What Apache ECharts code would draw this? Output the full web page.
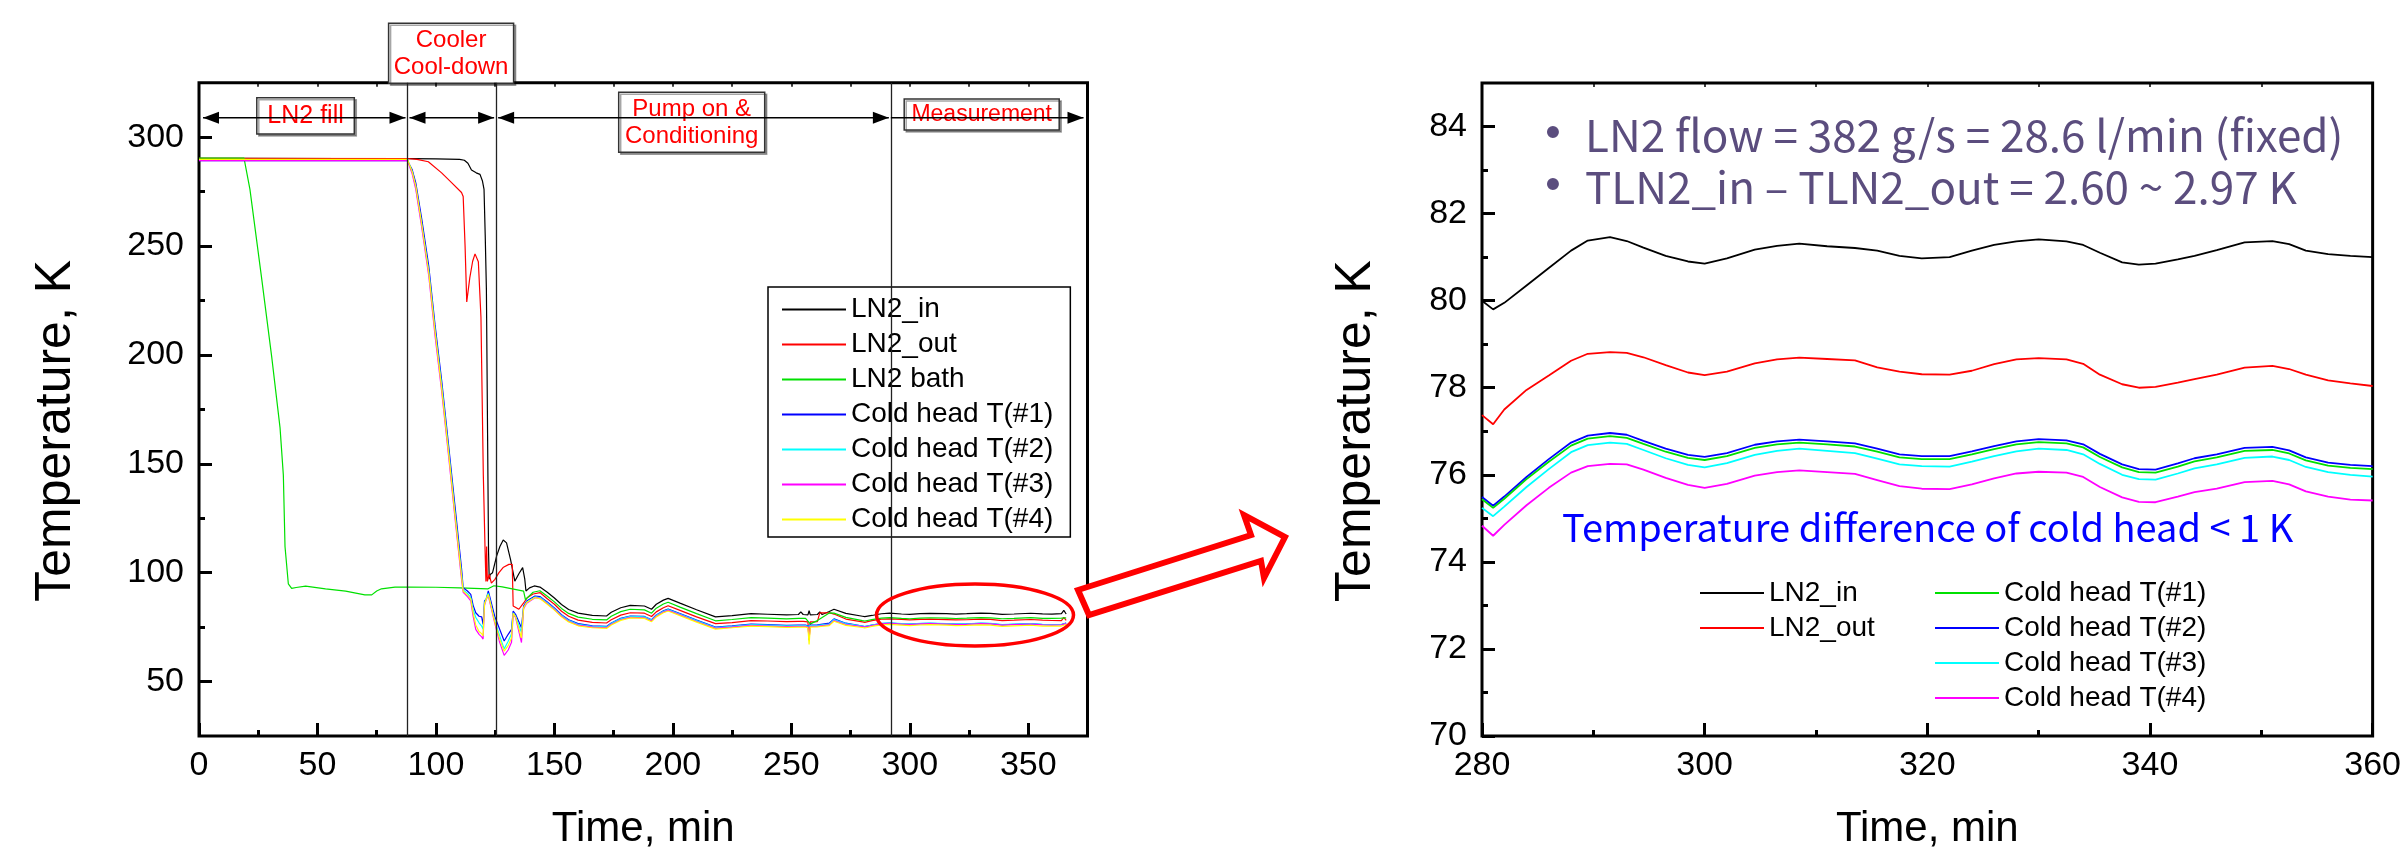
<!DOCTYPE html>
<html>
<head>
<meta charset="utf-8">
<script src="https://cdn.jsdelivr.net/npm/echarts@6/dist/echarts.min.js"></script>
<style>
  html, body { margin: 0; padding: 0; background: #fff; }
  #chart { width: 2404px; height: 855px; }
</style>
</head>
<body>
<div id="chart"></div>
<script>
// ---------- Full run: time [min], temperature [K] ----------
const runLN2in = [[0,290.3],[20,290.3],[60,290.2],[88,290.1],[100,290],[110,289.8],[112,289.4],[113.5,288],[115,284.9],[117,283.6],[118.6,282.9],[119.6,280],[120.3,276],[120.8,255],[121.3,230],[121.8,163],[122.2,110],[122.5,97],[122.9,99.2],[123.9,100],[125.6,107.6],[127,112],[128.4,115],[129.8,113.7],[131.5,106],[133.3,96.1],[135,99.5],[136.6,102.3],[137.5,97],[138,91.6],[139.5,93],[141.5,93.9],[143.9,93.4],[147,91],[150,88.4],[153,85.4],[156,83.1],[160,81.4],[166,80.4],[172,80.1],[174,81.8],[178,83.9],[182,85],[188,84.7],[191,83.2],[193,85.5],[196,87.4],[198,88.2],[203,86],[210,83],[218,79.7],[225,80.3],[233,81.2],[240,80.9],[248,80.6],[253,80.8],[254,82],[255,80.8],[257,80.6],[257.5,82.5],[258,80.6],[261,80.8],[262,82],[263,80.8],[266,82.2],[268,83.2],[273,81.3],[280,80],[281,79.8],[284,80.35],[288,81.15],[291.5,81.46],[296.5,81.03],[300,80.85],[304.5,81.17],[308.5,81.31],[315.5,81.15],[319.5,80.97],[324,81.15],[330,81.41],[334,81.28],[339,80.83],[344,81.03],[351,81.37],[356,81.07],[360,81],[364,81.2],[365,82.7],[366,81]];

const runLN2out = [[0,290.3],[88,290.2],[92,289.8],[96.8,288.7],[102.4,283.6],[106.6,279.1],[110.8,274.6],[111.5,272.7],[112.3,250],[113,224.3],[114.3,235.5],[115.5,243],[116.5,246.4],[117.9,242.8],[119,217.4],[120,144.8],[120.7,112.1],[121.1,96],[121.4,112],[121.7,96],[122.5,99.2],[123.4,95.2],[124.9,96.9],[126.6,100],[128.5,102.5],[130.8,103.8],[132.2,103.8],[132.6,84.7],[135,83.2],[137.1,86.2],[138.5,88.5],[141,90.2],[144,90.8],[147,88],[150,85.5],[153,82.3],[156,80],[160,78.2],[166,77.2],[172,76.9],[174,78.4],[178,80.5],[182,81.6],[188,81.4],[191,79.9],[193,82],[196,83.9],[198,84.8],[203,82.7],[210,79.7],[218,76.6],[225,77.1],[233,78],[240,77.8],[248,77.5],[253,77.6],[255,77.6],[257,77.4],[257.5,69],[258,77.4],[261,77.5],[262,81.5],[265,81.5],[266,81.6],[268,81],[273,78.7],[280,77.37],[281,77.16],[284,77.95],[288,78.62],[291.5,78.82],[296.5,78.52],[300,78.29],[304.5,78.56],[308.5,78.69],[315.5,78.47],[319.5,78.31],[324,78.39],[330,78.68],[334,78.55],[339,78],[344,78.2],[351,78.5],[356,78.17],[360,78.04],[364,78],[365,79.5],[366,78.1]];

const runBath = [[0,290.4],[19,290.4],[21.5,276],[26.4,235.5],[30.7,199],[34.2,166.6],[35.6,144.8],[36.3,112],[37.7,94.9],[39.1,92.8],[41,93.2],[45,93.8],[53.4,92.6],[61.9,91.5],[66.2,90.6],[70,89.8],[72.9,89.8],[75,91.6],[77,92.6],[82.7,93.4],[88.3,93.4],[100,93.3],[110,93],[122,92.6],[124.5,94],[128,93.5],[137,91.5],[137.8,87.5],[138.6,88.5],[141,91],[143.9,91.7],[147,89.2],[150,86.6],[153,83.6],[156,81.3],[160,79.6],[166,78.6],[172,78.3],[174,80],[178,82.1],[182,83.2],[188,82.9],[191,81.4],[193,83.7],[196,85.6],[198,86.4],[203,84.2],[210,81.2],[218,77.9],[225,78.5],[233,79.4],[240,79.1],[248,78.8],[253,79],[256,79],[258,76.5],[261,78],[266,81.5],[268,81.4],[273,79.5],[280,78],[281,77.8],[284,78.4],[288,79.1],[291.5,79.4],[296.5,79],[300,78.85],[304.5,79.15],[308.5,79.3],[315.5,79.1],[319.5,78.95],[324,79.1],[330,79.4],[334,79.25],[339,78.85],[344,79],[351,79.35],[356,79.05],[360,79],[364,79.1],[366,79.2]];

const runHead1 = [[0,289.2],[88,289.2],[90,285],[91.5,279],[94,262.5],[97,240.5],[99.6,214],[102.4,188.5],[105.2,160],[108,131],[110.8,102],[111.5,93.1],[113.3,91.6],[114.7,90],[115.7,85],[116.8,81.6],[118.2,80],[119.3,79.7],[119.9,76.3],[120.5,87],[121.3,88],[122.1,91.6],[124.8,80],[126.9,74],[128.8,68.6],[130.5,71.7],[131.9,74],[132.6,82.4],[133.6,80.9],[136.1,74.7],[137,84.7],[138.3,87],[141.8,89.3],[144,89],[147,86.5],[150,83.8],[153,80.7],[156,78.4],[160,76.6],[166,75.6],[172,75.3],[174,76.9],[178,79],[182,80.1],[188,79.9],[191,78.4],[193,80.6],[196,82.5],[198,83.3],[203,81.2],[210,78.2],[218,75],[225,75.6],[233,76.4],[240,76.1],[248,75.8],[253,75.9],[256,75.9],[257,75.6],[258,75.9],[261,76],[264,76.5],[266,76.8],[268,78.8],[273,76.8],[280,75.44],[281,75.24],[284,75.9],[288,76.67],[291.5,76.89],[296.5,76.53],[300,76.34],[304.5,76.62],[308.5,76.74],[315.5,76.53],[319.5,76.36],[324,76.47],[330,76.75],[334,76.63],[339,76.06],[344,76.31],[351,76.57],[356,76.21],[360,76.13],[364,76.2],[366,76.9]];

const runHead2 = [[0,289.6],[88,289.6],[90,284],[91.5,277],[94,260],[97,238],[99.6,211.5],[102.4,186],[105.2,157.5],[108,128],[110.8,99],[111.5,92],[113.3,90.5],[114.7,88.5],[115.7,83],[116.8,79.5],[118.2,77],[119.3,75.5],[119.9,74],[120.5,86],[121.3,88.5],[122.1,90.5],[124.8,78],[126.9,71],[128.8,65],[130.5,68.5],[131.9,72],[132.6,81.5],[133.6,80],[136.1,72.5],[137,84],[138.3,86.5],[141.8,88.8],[144,88.6],[147,86.2],[150,83.5],[153,80.4],[156,78.1],[160,76.3],[166,75.4],[172,75.1],[174,76.7],[178,78.8],[182,79.9],[188,79.7],[191,78.2],[193,80.4],[196,82.3],[198,83.1],[203,81],[210,78],[218,74.8],[225,75.4],[233,76.2],[240,75.9],[248,75.6],[253,75.7],[256,75.7],[257,75.4],[258,75.7],[261,75.8],[264,76.2],[266,76.4],[268,78.5],[273,76.6],[280,75.49],[281,75.29],[284,75.95],[288,76.74],[291.5,76.96],[296.5,76.6],[300,76.41],[304.5,76.69],[308.5,76.81],[315.5,76.6],[319.5,76.43],[324,76.54],[330,76.82],[334,76.7],[339,76.13],[344,76.38],[351,76.64],[356,76.28],[360,76.2],[364,76.2],[366,76.8]];

const runHead3 = [[0,289.2],[88,289.2],[90,283],[91.5,276],[94,258.5],[97,236],[99.6,209],[102.4,183.5],[105.2,155],[108,125.5],[110.8,97],[111.5,91],[113.3,89],[114.7,87],[115.7,80],[116.8,74],[118.2,71.7],[119.3,70.5],[119.9,69.5],[120.5,85],[121.3,88],[122.1,89.5],[124.8,77],[126.9,68],[128.8,62],[130.5,64.5],[131.9,68],[132.6,81],[133.6,79.5],[136.1,67.9],[137,83.5],[138.3,86],[141.8,88.5],[144,88.2],[147,85.8],[150,83.1],[153,80],[156,77.7],[160,75.9],[166,75],[172,74.7],[174,76.3],[178,78.4],[182,79.5],[188,79.3],[191,77.8],[193,80],[196,81.9],[198,82.7],[203,80.6],[210,77.6],[218,74.4],[225,75],[233,75.8],[240,75.5],[248,75.2],[253,75.3],[256,75.3],[257,75],[257.5,70],[258,75.3],[261,75.4],[264,75.8],[266,76],[268,78],[273,76.2],[280,75.24],[281,75.05],[284,75.72],[288,76.52],[291.5,76.74],[296.5,76.38],[300,76.17],[304.5,76.46],[308.5,76.6],[315.5,76.37],[319.5,76.2],[324,76.3],[330,76.6],[334,76.47],[339,75.9],[344,76.15],[351,76.42],[356,76.06],[360,75.96],[364,76],[366,76.6]];

const runHead4 = [[0,289.8],[88,289.8],[90,284],[91.5,277.5],[94,260],[97,237.5],[99.6,211],[102.4,185],[105.2,156.5],[108,127],[110.8,98.5],[111.5,91.5],[113.3,89.8],[114.7,88],[115.7,81.5],[116.8,76],[118.2,73],[119.3,72],[119.9,71],[120.5,85.5],[121.3,88],[122.1,90],[124.8,77.5],[126.9,69.5],[128.8,64],[130.5,66.5],[131.9,70],[132.6,81.3],[133.6,79.7],[136.1,70],[137,83.8],[138.3,86.3],[141.8,88.6],[144,88],[147,85.5],[150,82.8],[153,79.7],[156,77.4],[160,75.6],[166,74.7],[172,74.4],[174,76],[178,78.1],[182,79.2],[188,79],[191,77.5],[193,79.7],[196,81.6],[198,82.4],[203,80.3],[210,77.3],[218,74.1],[225,74.7],[233,75.5],[240,75.2],[248,74.9],[253,75],[256,75],[257,74.7],[257.5,67],[258,75],[261,75.1],[264,75.5],[266,75.7],[268,77.7],[273,75.8],[280,74.83],[281,74.6],[284,75.3],[288,76.05],[291.5,76.25],[296.5,75.93],[300,75.7],[304.5,75.98],[308.5,76.1],[315.5,75.88],[319.5,75.68],[324,75.78],[330,76.07],[334,75.95],[339,75.38],[344,75.6],[351,75.86],[356,75.5],[360,75.41],[364,75.5],[366,76.2]];

// Phase boundaries of the run [min]
const phaseBounds = [0, 88, 125.4, 292, 375];

// ---------- Measurement window 280-360 min ----------
const measTime = [280,281,282,284,286,288,289.5,291.5,293,294.5,296.5,298.5,300,302,304.5,306.5,308.5,311,313.5,315.5,317.5,319.5,322,324,326,328,330,332.5,334,335.5,337.5,339,340.5,342.5,344,346,348.5,351,352.5,354,356,358,360];
const measLN2in  = [80.0,79.8,79.95,80.35,80.75,81.15,81.38,81.46,81.37,81.22,81.03,80.9,80.85,80.97,81.17,81.26,81.31,81.25,81.21,81.15,81.03,80.97,81.0,81.15,81.28,81.36,81.41,81.36,81.28,81.1,80.88,80.83,80.85,80.95,81.03,81.16,81.34,81.37,81.3,81.15,81.07,81.03,81.0];
const measLN2out = [77.37,77.16,77.5,77.95,78.28,78.62,78.78,78.82,78.8,78.7,78.52,78.35,78.29,78.37,78.56,78.65,78.69,78.66,78.63,78.47,78.37,78.31,78.3,78.39,78.54,78.65,78.68,78.65,78.55,78.3,78.08,78.0,78.02,78.12,78.2,78.3,78.46,78.5,78.43,78.3,78.17,78.1,78.04];
const measHead1  = [75.44,75.24,75.45,75.9,76.3,76.67,76.83,76.89,76.85,76.71,76.53,76.39,76.34,76.43,76.62,76.7,76.74,76.7,76.65,76.53,76.4,76.36,76.36,76.47,76.59,76.7,76.75,76.72,76.63,76.41,76.17,76.06,76.05,76.19,76.31,76.4,76.55,76.57,76.49,76.33,76.21,76.16,76.13];
const measHead2  = [75.49,75.29,75.5,75.95,76.36,76.74,76.9,76.96,76.92,76.78,76.6,76.46,76.41,76.5,76.69,76.77,76.81,76.77,76.72,76.6,76.47,76.43,76.43,76.54,76.66,76.77,76.82,76.79,76.7,76.48,76.24,76.13,76.12,76.26,76.38,76.47,76.62,76.64,76.56,76.4,76.28,76.23,76.2];
const measHead3  = [75.24,75.05,75.27,75.72,76.13,76.52,76.68,76.74,76.71,76.57,76.38,76.23,76.17,76.27,76.46,76.55,76.6,76.55,76.5,76.37,76.24,76.2,76.19,76.3,76.43,76.54,76.6,76.57,76.47,76.25,76.0,75.9,75.89,76.03,76.15,76.24,76.39,76.42,76.34,76.18,76.06,76.0,75.96];
const measHead4  = [74.83,74.6,74.85,75.3,75.7,76.05,76.2,76.25,76.24,76.12,75.93,75.77,75.7,75.79,75.98,76.06,76.1,76.06,76.02,75.88,75.74,75.68,75.67,75.78,75.92,76.03,76.07,76.05,75.95,75.72,75.48,75.38,75.37,75.5,75.6,75.68,75.83,75.86,75.78,75.62,75.5,75.43,75.41];

// ---------- Tick positions ----------
const runXMajor = [0,50,100,150,200,250,300,350];
const runXMinor = [25,75,125,175,225,275,325];
const runXTop   = [25,50,75,100,125,150,175,200,225,250,275,300,325,350];
const runYMajor = [50,100,150,200,250,300];
const runYMinor = [75,125,175,225,275];
const measXMajor = [280,300,320,340,360];
const measXMinor = [290,310,330,350];
const measXTop   = [290,300,310,320,330,340,350];
const measYMajor = [70,72,74,76,78,80,82,84];
const measYMinor = [71,73,75,77,79,81,83];

const FONT = '"Liberation Sans", Arial, sans-serif';
const NOTE_FONT = '"Noto Sans CJK KR", "Noto Sans", sans-serif';
const C = { black:'#000000', red:'#ff0000', green:'#00e000', blue:'#0000ff', cyan:'#00ffff', magenta:'#ff00ff', yellow:'#ffff00' };

const zip = (ts, vs) => ts.map((t, i) => [t, vs[i]]);

function line(name, data, color, xi, yi, width, extra) {
  return Object.assign({
    type: 'line', name, data, xAxisIndex: xi, yAxisIndex: yi,
    symbol: 'none', showSymbol: false, silent: true, animation: false,
    lineStyle: { color, width }, itemStyle: { color }
  }, extra || {});
}

function tickAxis(grid, pos, min, max, values, len, width, label, name) {
  const ax = {
    type: 'value', gridIndex: grid, position: pos, min, max,
    axisLine: { show: false }, splitLine: { show: false },
    axisTick: { show: true, inside: true, length: len, customValues: values, lineStyle: { color: '#000', width } },
    axisLabel: label ? Object.assign({ customValues: values, color: '#000', fontSize: 34, fontFamily: FONT }, label) : { show: false }
  };
  if (name) Object.assign(ax, name);
  return ax;
}

const yName = (gap) => ({
  name: 'Temperature, K', nameLocation: 'middle', nameGap: gap,
  nameTextStyle: { fontSize: 50, fontFamily: FONT, color: '#000', padding: [0, 43, 0, 0] }
});
const xName = {
  name: 'Time, min', nameLocation: 'middle', nameGap: 72,
  nameTextStyle: { fontSize: 42, fontFamily: FONT, color: '#000' }
};

const legendText = { fontSize: 28, fontFamily: FONT, color: '#000', lineHeight: 33 };
const legItem = (name, color) => ({ name, icon: 'rect', itemStyle: { color, borderWidth: 0 } });
const legendBase = { orient: 'vertical', itemWidth: 64, itemHeight: 2, itemGap: 2, selectedMode: false, textStyle: legendText };

const option = {
  backgroundColor: '#fff',
  animation: false,
  grid: [
    { left: 199, right: 1316.5, top: 82.7, bottom: 118.3, show: true, borderColor: '#000', borderWidth: 3, backgroundColor: 'transparent' },
    { left: 1482, right: 24, top: 83, bottom: 118.3, show: true, borderColor: '#000', borderWidth: 3, backgroundColor: 'transparent' }
  ],
  xAxis: [
    tickAxis(0, 'bottom', 0, 375, runXMajor, 13, 3, { margin: 13 }, xName),
    tickAxis(0, 'bottom', 0, 375, runXMinor, 6, 3, null),
    tickAxis(0, 'top', 0, 375, runXTop, 4, 1.5, null),
    tickAxis(1, 'bottom', 280, 360, measXMajor, 13, 3, { margin: 13 }, xName),
    tickAxis(1, 'bottom', 280, 360, measXMinor, 6, 3, null),
    tickAxis(1, 'top', 280, 360, measXTop, 4, 1.5, null)
  ],
  yAxis: [
    tickAxis(0, 'left', 25, 325, runYMajor, 13, 3, { margin: 15 }, yName(118)),
    tickAxis(0, 'left', 25, 325, runYMinor, 6, 3, null),
    tickAxis(1, 'left', 70, 85, measYMajor, 13, 3, { margin: 15 }, yName(101)),
    tickAxis(1, 'left', 70, 85, measYMinor, 6, 3, null)
  ],
  legend: [
    Object.assign({}, legendBase, {
      left: 768, top: 287, padding: [6, 17, 1, 14],
      borderColor: '#000', borderWidth: 1.5, backgroundColor: '#fff',
      data: [legItem('LN2_in', C.black), legItem('LN2_out', C.red), legItem('LN2 bath', C.green),
             legItem('Cold head T(#1)', C.blue), legItem('Cold head T(#2)', C.cyan),
             legItem('Cold head T(#3)', C.magenta), legItem('Cold head T(#4)', C.yellow)]
    }),
    Object.assign({}, legendBase, {
      left: 1700, top: 576.5, padding: 0,
      data: [legItem('LN2_in', C.black), legItem('LN2_out', C.red)]
    }),
    Object.assign({}, legendBase, {
      left: 1935, top: 576.5, padding: 0,
      data: [legItem('Cold head T(#1)', C.green), legItem('Cold head T(#2)', C.blue),
             legItem('Cold head T(#3)', C.cyan), legItem('Cold head T(#4)', C.magenta)]
    })
  ],
  series: [
    line('LN2_in', runLN2in, C.black, 0, 0, 1.2, {
      markLine: {
        silent: true, symbol: 'none', animation: false,
        label: { show: false },
        lineStyle: { color: '#222', width: 1.3, type: 'solid' },
        data: phaseBounds.slice(1, 4).map(t => ({ xAxis: t }))
      }
    }),
    line('LN2_out', runLN2out, C.red, 0, 0, 1.2),
    line('LN2 bath', runBath, C.green, 0, 0, 1.2),
    line('Cold head T(#1)', runHead1, C.blue, 0, 0, 1.2),
    line('Cold head T(#2)', runHead2, C.cyan, 0, 0, 1.2),
    line('Cold head T(#3)', runHead3, C.magenta, 0, 0, 1.2),
    line('Cold head T(#4)', runHead4, C.yellow, 0, 0, 1.2),

    line('LN2_in', zip(measTime, measLN2in), C.black, 3, 2, 1.8),
    line('LN2_out', zip(measTime, measLN2out), C.red, 3, 2, 1.8),
    line('Cold head T(#2)', zip(measTime, measHead2), C.blue, 3, 2, 1.8),
    line('Cold head T(#1)', zip(measTime, measHead1), C.green, 3, 2, 1.8),
    line('Cold head T(#3)', zip(measTime, measHead3), C.cyan, 3, 2, 1.8),
    line('Cold head T(#4)', zip(measTime, measHead4), C.magenta, 3, 2, 1.8)
  ]
};

const chart = echarts.init(document.getElementById('chart'), null, { renderer: 'canvas' });
chart.setOption(option);

// ---------- Phase annotations above the run plot ----------
const px = t => chart.convertToPixel({ xAxisIndex: 0 }, t);
const ARROW_Y = 117.7, HEAD_L = 16, HEAD_H = 6;
const els = [];

function head(tipX, dir) {
  return { type: 'polygon', z: 20, shape: { points: [[tipX, ARROW_Y], [tipX - dir * HEAD_L, ARROW_Y - HEAD_H], [tipX - dir * HEAD_L, ARROW_Y + HEAD_H]] }, style: { fill: '#000' } };
}
const segs = [
  { a: phaseBounds[0], b: phaseBounds[1], left: true },
  { a: phaseBounds[1], b: phaseBounds[2], left: true },
  { a: phaseBounds[2], b: phaseBounds[3], left: true },
  { a: phaseBounds[3], b: phaseBounds[4], left: false }
];
segs.forEach((s, i) => {
  const x1 = px(s.a) + (i === 0 ? 4 : 2);
  const x2 = px(s.b) - (i === segs.length - 1 ? 4 : 2);
  els.push({ type: 'line', z: 19, shape: { x1: s.left ? x1 : px(s.a), y1: ARROW_Y, x2: x2, y2: ARROW_Y }, style: { stroke: '#000', lineWidth: 1.5 } });
  if (s.left) els.push(head(x1, -1));
  els.push(head(x2, 1));
});

function labelBox(x, y, w, h, lines, size) {
  const children = [{ type: 'rect', shape: { x, y, width: w, height: h }, style: { fill: '#fff', stroke: '#333', lineWidth: 1.5, shadowColor: 'rgba(0,0,0,0.35)', shadowOffsetX: 2, shadowOffsetY: 2 } }];
  lines.forEach(l => children.push({ type: 'text', x: x + w / 2, y: l.y, style: { text: l.t, font: size + 'px ' + FONT, fill: '#ff0000', align: 'center', verticalAlign: 'middle' } }));
  return { type: 'group', z: 25, children };
}
els.push(labelBox(256.8, 97.7, 97.5, 36.3, [{ t: 'LN2 fill', y: 116 }], 25));
els.push(labelBox(388.6, 23.3, 125, 60, [{ t: 'Cooler', y: 40 }, { t: 'Cool-down', y: 67.6 }], 24));
els.push(labelBox(618.7, 92.3, 146, 60, [{ t: 'Pump on &', y: 109 }, { t: 'Conditioning', y: 136.7 }], 24));
els.push(labelBox(904.2, 99, 155, 31, [{ t: 'Measurement', y: 114.5 }], 23));

// Highlight of the measurement window and the pointer to the zoomed plot
els.push({ type: 'ellipse', z: 30, shape: { cx: 975, cy: 615, rx: 98.5, ry: 31 }, style: { fill: 'none', stroke: '#ff0000', lineWidth: 3.5 } });
els.push({ type: 'polygon', z: 30, shape: { points: [[1078,590],[1251,535],[1244,515],[1285,537],[1264,578],[1261,561],[1089,615]] }, style: { fill: '#fff', stroke: '#ff0000', lineWidth: 6, lineJoin: 'miter' } });

// Notes inside the zoomed plot
const noteColor = '#5b4d7e';
els.push({ type: 'text', z: 30, x: 1553, y: 135, style: { text: '•', font: '44px ' + FONT, fill: noteColor, align: 'center', verticalAlign: 'middle' } });
els.push({ type: 'text', z: 30, x: 1553, y: 187, style: { text: '•', font: '44px ' + FONT, fill: noteColor, align: 'center', verticalAlign: 'middle' } });
els.push({ type: 'text', z: 30, x: 1585, y: 135, style: { text: 'LN2 flow = 382 g/s = 28.6 l/min (fixed)', font: '44px ' + NOTE_FONT, fill: noteColor, align: 'left', verticalAlign: 'middle' } });
els.push({ type: 'text', z: 30, x: 1585, y: 187, style: { text: 'TLN2_in \u2013 TLN2_out = 2.60 ~ 2.97 K', font: '44px ' + NOTE_FONT, fill: noteColor, align: 'left', verticalAlign: 'middle' } });
els.push({ type: 'text', z: 30, x: 1562, y: 527.5, style: { text: 'Temperature difference of cold head < 1 K', font: '38px ' + NOTE_FONT, fill: '#0000ff', align: 'left', verticalAlign: 'middle' } });

chart.setOption({ graphic: { elements: els } });
</script>
</body>
</html>
